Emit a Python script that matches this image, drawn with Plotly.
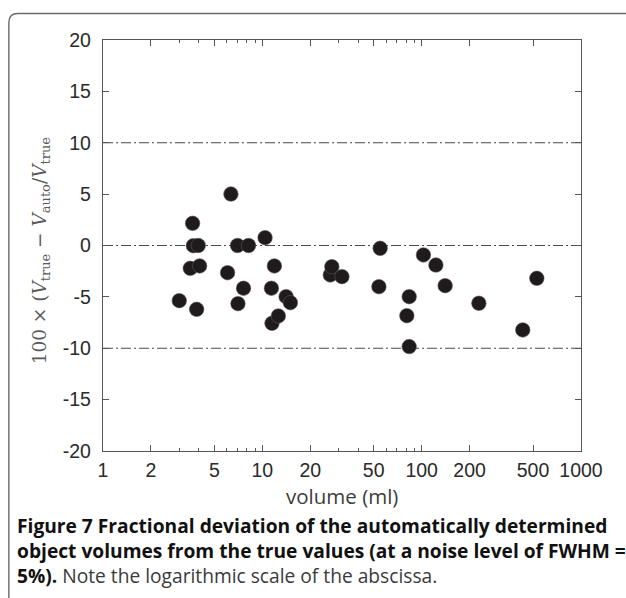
import plotly.graph_objects as go

# ---- data ----
volume_ml = [3.01, 3.53, 3.65, 3.69, 3.87, 3.96, 4.04, 6.05, 6.35, 6.99, 7.03, 7.62, 8.19,
             10.4, 11.4, 11.5, 11.9, 12.6, 14.1, 15.0, 26.7, 27.3, 31.6, 53.9, 54.9,
             80.7, 83.5, 83.5, 102.6, 122.8, 140.4, 228.5, 431, 528]
deviation = [-5.37, -2.22, 2.16, -0.02, -6.21, 0.0, -1.99, -2.65, 5.01, 0.0, -5.66, -4.16, 0.0,
             0.76, -4.16, -7.57, -1.99, -6.86, -4.98, -5.56, -2.87, -2.06, -3.03, -4.01, -0.27,
             -6.83, -4.98, -9.84, -0.92, -1.90, -3.91, -5.62, -8.22, -3.19]

x_tickvals = [1, 2, 5, 10, 20, 50, 100, 200, 500, 1000]
x_ticktext = ["1", "2", "5", "10", "20", "50", "100", "200", "500", "1000"]
x_minorvals = [3, 4, 6, 7, 8, 9, 30, 40, 60, 70, 80, 90]
y_tickvals = [20, 15, 10, 5, 0, -5, -10, -15, -20]
y_ticktext = ["20", "15", "10", "5", "0", "-5", "-10", "-15", "-20"]
ref_levels = [10, 0, -10]

x_title = "volume (ml)"
y_title = ("100 × (<i>V</i><sub>true</sub> − <i>V</i><sub>auto</sub>/<i>V</i><sub>true</sub>")
caption = ("<b>Figure 7 Fractional deviation of the automatically determined<br>"
           "object volumes from the true values (at a noise level of FWHM =<br>"
           "5%).</b><span style='color:#3a3a3a'> Note the logarithmic scale of the abscissa.</span>")

# ---- layout geometry (pixels) ----
W, H = 626, 598
L, R, T, B = 102.7, 581.0, 40.0, 451.0
pw, ph = R - L, B - T


def px(xp):
    return (xp - L) / pw


def py(yp):
    return (B - yp) / ph


fig = go.Figure()

for lv in ref_levels:
    fig.add_shape(type="line", xref="x domain", yref="y", x0=0, x1=1, y0=lv, y1=lv,
                  line=dict(color="#4a4a4a", width=1.2, dash="10px,3px,2px,3px"), layer="below")

fig.add_trace(go.Scatter(
    x=volume_ml, y=deviation, mode="markers",
    marker=dict(size=14.5, color="#1f1b1c", line=dict(width=0.6, color="#555555")),
    showlegend=False, hoverinfo="x+y"))

# outer rounded frame
r_x, r_y = 9 / pw, 9 / ph
x0f, y0f = px(8.5), py(13.5)
x1f, y1f = px(640), py(610)
path = (f"M {x0f},{y1f} L {x0f},{y0f - r_y} Q {x0f},{y0f} {x0f + r_x},{y0f} L {x1f},{y0f}")
fig.add_shape(type="path", xref="paper", yref="paper", path=path,
              line=dict(color="#6a6a6a", width=1.4))

fig.add_annotation(xref="paper", yref="paper", x=px(41), y=py(250), text=y_title,
                   textangle=-90, showarrow=False, xanchor="center", yanchor="middle",
                   font=dict(family="DejaVu Serif", size=18.5, color="#5a5a5a"))
fig.add_annotation(xref="paper", yref="paper", x=0.5, y=py(496), text=x_title,
                   showarrow=False, xanchor="center", yanchor="middle",
                   font=dict(family="Open Sans", size=20.5, color="#3c3c3c"))
fig.add_annotation(xref="paper", yref="paper", x=px(15), y=py(510), text=caption,
                   showarrow=False, xanchor="left", yanchor="top", align="left",
                   font=dict(family="Open Sans", size=19.2, color="#111111"))

axis_common = dict(showline=True, linecolor="#555555", linewidth=1.3, mirror="ticks",
                   ticks="inside", tickcolor="#555555", tickwidth=1.2, ticklen=6,
                   showgrid=False, zeroline=False,
                   tickfont=dict(family="Liberation Sans", size=19.5, color="#2a2a2a"))

fig.update_xaxes(type="log", range=[0, 3], tickmode="array", tickvals=x_tickvals,
                 ticktext=x_ticktext, ticklabelstandoff=1,
                 minor=dict(tickmode="array", tickvals=x_minorvals, ticks="inside",
                            ticklen=3, tickcolor="#555555", tickwidth=1.1),
                 **axis_common)
fig.update_yaxes(range=[-20, 20], tickmode="array", tickvals=y_tickvals,
                 ticktext=y_ticktext, ticklabelstandoff=7, **axis_common)

fig.update_layout(width=W, height=H, margin=dict(l=L, r=W - R, t=T, b=H - B),
                  plot_bgcolor="white", paper_bgcolor="white")

fig.write_html("out.html")
